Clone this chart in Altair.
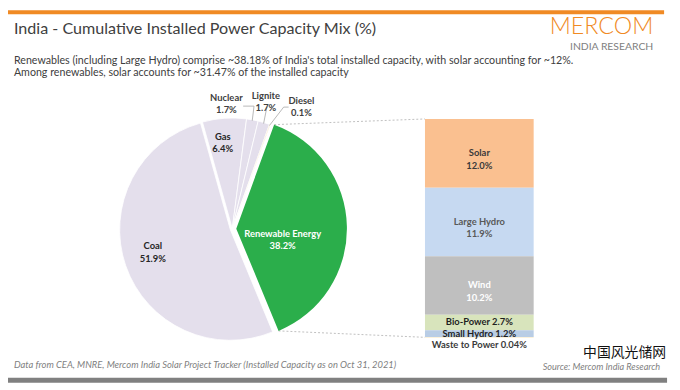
import math
import altair as alt
import pandas as pd

# ---------------- data ----------------
pie_names = ["Renewable Energy", "Coal", "Gas", "Nuclear", "Lignite", "Diesel"]
pie_values = [38.2, 51.9, 6.4, 1.7, 1.7, 0.1]
pie_colors = ["#2BAE4B", "#E4DFEC", "#E4DFEC", "#E4DFEC", "#E4DFEC", "#E6B656"]

bar_names = ["Solar", "Large Hydro", "Wind", "Bio-Power", "Small Hydro", "Waste to Power"]
bar_values = [12.0, 11.9, 10.2, 2.7, 1.2, 0.04]
bar_colors = ["#FAC090", "#C6D9F1", "#BFBFBF", "#D8E4BC", "#B9CDE5", "#F0C870"]
bar_label_colors = ["#3A3A3A", "#595959", "#FFFFFF", "#1F1F1F", "#1F1F1F", "#3A3A3A"]

title_text = "India - Cumulative Installed Power Capacity Mix (%)"
subtitle_1 = "Renewables (including Large Hydro) comprise ~38.18% of India's total installed capacity, with solar accounting for ~12%."
subtitle_2 = "Among renewables, solar accounts for ~31.47% of the installed capacity"
footer_left = "Data from CEA, MNRE, Mercom India Solar Project Tracker  (Installed Capacity as on Oct 31, 2021)"
footer_right = "Source: Mercom India Research"
logo_1 = "MERCOM"
logo_2 = "INDIA RESEARCH"
watermark = "中国风光储网"

# ---------------- layout ----------------
W, H = 672, 382
CX, CY, R = 227, 221, 112
START_DEG = 20.0
RE_SHIFT = (4, 0)
COAL_SHIFT = (-2, 1)
BAR_X0, BAR_X1 = 422, 532
BAR_TOP, BAR_BOT = 110, 331
FONT = "Lato"

# ---------------- derived tables ----------------
total_pie = sum(pie_values)
pie_df = pd.DataFrame({"name": pie_names, "v": pie_values})
pie_df["end"] = pie_df["v"].cumsum()
pie_df["start"] = pie_df["end"] - pie_df["v"]
pie_df["mid"] = (pie_df["start"] + pie_df["end"]) / 2
pie_df["label"] = [f"{n}\n{v:.1f}%" for n, v in zip(pie_names, pie_values)]

start_rad = math.radians(START_DEG)
theta_scale = alt.Scale(domain=[0, total_pie], range=[start_rad, start_rad + 2 * math.pi])

def ang(val):
    return start_rad + val / total_pie * 2 * math.pi

def pt(cx, cy, r, a):
    return cx + r * math.sin(a), cy - r * math.cos(a)

bar_df = pd.DataFrame({"name": bar_names, "v": bar_values, "lc": bar_label_colors})
bar_df["end"] = bar_df["v"][::-1].cumsum()[::-1]
bar_df["start"] = bar_df["end"] - bar_df["v"]
bar_df["mid"] = (bar_df["start"] + bar_df["end"]) / 2
bar_df["label"] = [
    (f"{n}\n{v:.1f}%" if v >= 5 else (f"{n} {v:.1f}%" if v >= 0.1 else f"{n} {v:.2f}%"))
    for n, v in zip(bar_names, bar_values)
]
total_bar = float(sum(bar_values))
y_scale = alt.Scale(domain=[0, total_bar], range=[BAR_BOT, BAR_TOP])

# connectors from the exploded renewable slice to the bar
re_row = pie_df[pie_df["name"] == "Renewable Energy"].iloc[0]
gx, gy = CX + RE_SHIFT[0], CY + RE_SHIFT[1]
p_top = pt(gx, gy, R, ang(re_row["start"]))
p_bot = pt(gx, gy, R, ang(re_row["end"]))
conn_df = pd.DataFrame({
    "x": [p_top[0], p_bot[0]], "y": [p_top[1], p_bot[1]],
    "x2": [BAR_X0, BAR_X0], "y2": [BAR_TOP, BAR_BOT],
})

# leader lines for the small slices
def slice_pt(name, r=R - 1):
    row = pie_df[pie_df["name"] == name].iloc[0]
    return pt(CX, CY, r, ang(row["mid"]))

lead_rows = []
elbows = {"Nuclear": [(238, 97), (249, 97)], "Lignite": [(262, 98)], "Diesel": [(284, 98), (279, 98)]}
for nm, pts in elbows.items():
    seq = pts + [slice_pt(nm)]
    for i, (x, y) in enumerate(seq):
        lead_rows.append({"name": nm, "i": i, "x": x, "y": y})
lead_df = pd.DataFrame(lead_rows)

# ---------------- layers ----------------
one = alt.Data(values=[{}])
color_scale = alt.Scale(domain=pie_names, range=pie_colors)

def pie_arc(names, shift, stroke_w):
    return alt.Chart(pie_df).transform_filter(
        alt.FieldOneOfPredicate(field="name", oneOf=names)
    ).mark_arc(radius=R, stroke="white", strokeWidth=stroke_w).encode(
        theta=alt.Theta("start:Q", scale=theta_scale, stack=None),
        theta2="end:Q",
        color=alt.Color("name:N", scale=color_scale, legend=None),
        x=alt.value(CX + shift[0]),
        y=alt.value(CY + shift[1]),
    )

arcs_small = pie_arc(["Gas", "Nuclear", "Lignite", "Diesel"], (0, 0), 0.8)
arc_coal = pie_arc(["Coal"], COAL_SHIFT, 0.8)
arc_re = pie_arc(["Renewable Energy"], RE_SHIFT, 0)

def pie_label(name, shift, radius, color, dx=0, dy=0):
    return alt.Chart(pie_df).transform_filter(
        alt.FieldEqualPredicate(field="name", equal=name)
    ).mark_text(
        radius=radius, font=FONT, fontSize=9.5, fontWeight="bold", color=color,
        lineBreak="\n", align="center", baseline="middle", dx=dx, dy=dy, lineHeight=12.5,
    ).encode(
        theta=alt.Theta("mid:Q", scale=theta_scale, stack=None),
        text="label:N",
        x=alt.value(CX + shift[0]),
        y=alt.value(CY + shift[1]),
    )

lab_coal = pie_label("Coal", COAL_SHIFT, 83, "#262626", dx=0, dy=-10)
lab_gas = pie_label("Gas", (0, 0), 93, "#262626", dx=-3)
lab_re = pie_label("Renewable Energy", RE_SHIFT, 47, "#FFFFFF", dy=6)

def fixed_text(txt, x, y, size, color, weight="normal", align="left", style="normal", font=FONT):
    return alt.Chart(one).mark_text(
        text=txt, font=font, fontSize=size, color=color, fontWeight=weight,
        align=align, baseline="middle", fontStyle=style, lineBreak="\n", lineHeight=12.5,
    ).encode(x=alt.value(x), y=alt.value(y))

small_labels = []
for nm, (lx, ly) in {"Nuclear": (221, 88.5), "Lignite": (261, 86.5), "Diesel": (297, 91.5)}.items():
    row = pie_df[pie_df["name"] == nm].iloc[0]
    small_labels.append(fixed_text(row["label"], lx, ly, 9.5, "#404040", weight="bold", align="center"))

leaders = alt.Chart(lead_df).mark_line(color="#A6A6A6", strokeWidth=0.8).encode(
    x=alt.X("x:Q", scale=None, axis=None),
    y=alt.Y("y:Q", scale=None, axis=None),
    detail="name:N",
    order="i:Q",
)

connectors = alt.Chart(conn_df).mark_rule(color="#BFBFBF", strokeDash=[2, 2], strokeWidth=1).encode(
    x=alt.X("x:Q", scale=None, axis=None),
    y=alt.Y("y:Q", scale=None, axis=None),
    x2="x2:Q",
    y2="y2:Q",
)

bars = alt.Chart(bar_df).mark_bar().encode(
    x=alt.value(BAR_X0),
    x2=alt.value(BAR_X1),
    y=alt.Y("start:Q", scale=y_scale, axis=None),
    y2="end:Q",
    fill=alt.Fill("name:N", scale=alt.Scale(domain=bar_names, range=bar_colors), legend=None),
)

bar_labels = alt.Chart(bar_df).transform_filter(
    alt.FieldRangePredicate(field="v", range=[0.1, None])
).mark_text(
    font=FONT, fontSize=9.5, fontWeight="bold", lineBreak="\n", lineHeight=12.5,
    align="center", baseline="middle",
).encode(
    x=alt.value((BAR_X0 + BAR_X1) / 2),
    y=alt.Y("mid:Q", scale=y_scale, axis=None),
    text="label:N",
    color=alt.Color("lc:N", scale=None),
)

waste_label = alt.Chart(bar_df).transform_filter(
    alt.FieldLTPredicate(field="v", lt=0.1)
).mark_text(
    font=FONT, fontSize=9.5, fontWeight="bold", align="center", baseline="middle", dy=8,
).encode(
    x=alt.value((BAR_X0 + BAR_X1) / 2),
    y=alt.Y("start:Q", scale=y_scale, axis=None),
    text="label:N",
    color=alt.Color("lc:N", scale=None),
)

top_band = alt.Chart(one).mark_rect(color="#F08A24").encode(
    x=alt.value(0), x2=alt.value(664), y=alt.value(0), y2=alt.value(4)
)
bottom_band = alt.Chart(one).mark_rect(color="#808080").encode(
    x=alt.value(0), x2=alt.value(667), y=alt.value(372), y2=alt.value(377)
)

texts = [
    fixed_text(title_text, 6, 19, 16.3, "#404040"),
    fixed_text(logo_1, 653, 17, 23.5, "#F08A24", weight=300, align="right"),
    fixed_text(logo_2, 653, 37, 10.5, "#808080", align="right"),
    fixed_text(subtitle_1, 6, 51, 10.8, "#404040"),
    fixed_text(subtitle_2, 6, 64, 10.8, "#404040"),
    fixed_text(footer_left, 6, 359, 9.5, "#7F7F7F", style="italic"),
    fixed_text(footer_right, 660, 361.5, 9.2, "#7F7F7F", align="right", style="italic"),
    alt.Chart(one).mark_text(
        text=watermark, font="Noto Sans CJK SC", fontSize=14, color="#111111",
        align="center", baseline="middle",
    ).encode(x=alt.value(624), y=alt.value(347)),
]

chart = alt.layer(
    top_band, bottom_band,
    connectors,
    arcs_small, arc_coal, arc_re,
    leaders,
    lab_coal, lab_gas, lab_re,
    *small_labels,
    bars, bar_labels, waste_label,
    *texts,
).resolve_scale(x="independent", y="independent", color="independent", fill="independent").properties(
    width=W, height=H, padding=0,
    autosize=alt.AutoSizeParams(type="none"),
    background="white",
).configure_view(stroke=None)

chart.save("out.html", embed_options={"renderer": "svg", "actions": False})
